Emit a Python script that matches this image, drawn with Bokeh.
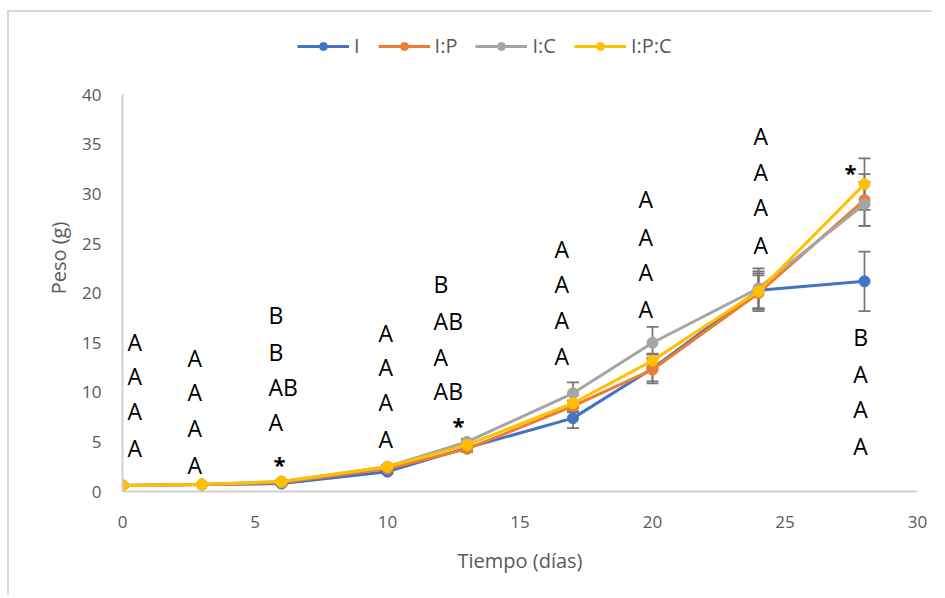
from bokeh.plotting import figure
from bokeh.models import (Range1d, SingleIntervalTicker, ColumnDataSource, Whisker,
                          TeeHead, Legend, LegendItem)
from bokeh.core.properties import value
from bokeh.embed import file_html
from bokeh.resources import INLINE

# ---- data ----
days = [0, 3, 6, 10, 13, 17, 20, 24, 28]
series_names = ["I", "I:P", "I:C", "I:P:C"]
series_colors = ["#4472C4", "#ED7D31", "#A5A5A5", "#FFC000"]
peso_I = [0.6, 0.7, 0.8, 2.0, 4.4, 7.4, 12.4, 20.3, 21.2]
peso_IP = [0.6, 0.7, 0.9, 2.3, 4.3, 8.6, 12.3, 20.0, 29.4]
peso_IC = [0.6, 0.7, 1.0, 2.5, 5.0, 9.9, 15.0, 20.5, 29.0]
peso_IPC = [0.6, 0.7, 1.0, 2.5, 4.7, 8.9, 13.2, 20.2, 31.0]
err_I = [0.1, 0.1, 0.1, 0.2, 0.3, 1.0, 1.5, 1.9, 3.0]
err_IP = [0.1, 0.1, 0.1, 0.2, 0.3, 0.6, 1.2, 1.8, 2.6]
err_IC = [0.1, 0.1, 0.1, 0.2, 0.3, 1.1, 1.6, 2.0, 2.2]
err_IPC = [0.1, 0.1, 0.1, 0.2, 0.3, 0.8, 0.6, 1.8, 2.6]
y_ticks_max = 40

# significance letters (left edge x, centre y, text)
letter_x = [0.19] * 4 + [2.45] * 4 + [5.51] * 4 + [9.66] * 4 + [11.74] * 4 + \
           [16.3] * 4 + [19.47] * 4 + [23.81] * 4 + [27.58] * 4
letter_y = [15.1, 11.6, 8.1, 4.4,
            13.5, 10.0, 6.4, 2.7,
            17.8, 14.1, 10.5, 7.0,
            16.0, 12.6, 9.0, 5.3,
            20.9, 17.2, 13.6, 10.1,
            24.5, 20.9, 17.3, 13.7,
            29.5, 25.7, 22.1, 18.4,
            35.9, 32.2, 28.7, 24.9,
            15.6, 11.9, 8.3, 4.6]
letter_text = ["A", "A", "A", "A",
               "A", "A", "A", "A",
               "B", "B", "AB", "A",
               "A", "A", "A", "A",
               "B", "AB", "A", "AB",
               "A", "A", "A", "A",
               "A", "A", "A", "A",
               "A", "A", "A", "A",
               "B", "A", "A", "A"]
star_x = [5.92, 12.68, 27.47]
star_y = [2.9, 6.8, 32.3]

FONT = "Open Sans"
GREY_TXT = "#595959"

p = figure(width=925, height=585, output_backend="svg", toolbar_location=None,
           x_range=Range1d(0, 30), y_range=Range1d(0, 47.1),
           min_border_left=113, min_border_right=17, min_border_top=12,
           min_border_bottom=106)
p.styles = {"border-left": "2px solid #d9d9d9", "border-top": "2px solid #d9d9d9",
            "margin-top": "10px", "margin-left": "7px"}
p.outline_line_color = None
p.xgrid.visible = False
p.ygrid.visible = False

for ax in (p.xaxis[0], p.yaxis[0]):
    ax.ticker = SingleIntervalTicker(interval=5)
    ax.axis_line_color = "#d0d0d0"
    ax.axis_line_width = 2
    ax.major_tick_line_color = None
    ax.minor_tick_line_color = None
    ax.major_label_text_font = FONT
    ax.major_label_text_font_size = "17px"
    ax.major_label_text_color = GREY_TXT
    ax.axis_label_text_font = FONT
    ax.axis_label_text_font_size = "20px"
    ax.axis_label_text_font_style = "normal"
    ax.axis_label_text_color = GREY_TXT

p.yaxis.bounds = (0, y_ticks_max)
p.xaxis.axis_label = "Tiempo (días)"
p.yaxis.axis_label = "Peso (g)"
p.xaxis.major_label_standoff = 18
p.yaxis.major_label_standoff = 15
p.xaxis.axis_label_standoff = 16
p.yaxis.axis_label_standoff = 7

all_vals = [peso_I, peso_IP, peso_IC, peso_IPC]
all_errs = [err_I, err_IP, err_IC, err_IPC]

# error bars
for vals, errs in zip(all_vals, all_errs):
    src = ColumnDataSource(dict(x=days,
                                upper=[v + e for v, e in zip(vals, errs)],
                                lower=[v - e for v, e in zip(vals, errs)]))
    w = Whisker(base="x", upper="upper", lower="lower", source=src,
                line_color="#767676", line_width=1.7, level="underlay",
                upper_head=TeeHead(size=12, line_color="#767676", line_width=1.7),
                lower_head=TeeHead(size=12, line_color="#767676", line_width=1.7))
    p.add_layout(w)

items = []
for name, vals, color in zip(series_names, all_vals, series_colors):
    rl = p.line(days, vals, line_color=color, line_width=3)
    rs = p.scatter(days, vals, size=11, fill_color=color, line_color=color)
    items.append(LegendItem(label=name, renderers=[rl, rs]))

legend = Legend(items=items, orientation="horizontal", location=(175, 432),
                glyph_width=52, glyph_height=20, label_standoff=5, spacing=18,
                padding=0, margin=0, border_line_color=None,
                background_fill_alpha=0, label_text_font=FONT,
                label_text_font_size="20px", label_text_color=GREY_TXT,
                label_width=0)
p.add_layout(legend)

lsrc = ColumnDataSource(dict(x=letter_x, y=letter_y, t=letter_text))
p.text(x="x", y="y", text="t", source=lsrc, text_font=value(FONT),
       text_font_size="23px", text_color="black", text_align="left",
       text_baseline="middle")

ssrc = ColumnDataSource(dict(x=star_x, y=star_y, t=["*"] * len(star_x)))
p.text(x="x", y="y", text="t", source=ssrc, text_font=value(FONT),
       text_font_size="22px", text_font_style="bold", text_color="black",
       text_align="center", text_baseline="middle", y_offset=1)

open("out.html", "w").write(file_html(p, INLINE))
